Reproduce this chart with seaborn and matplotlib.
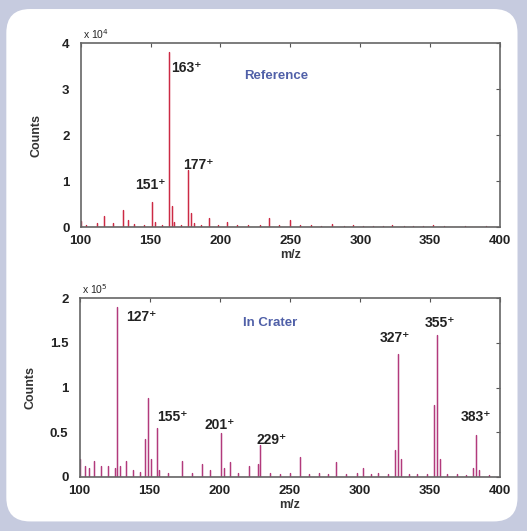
import numpy as np
import pandas as pd
import seaborn as sns
import matplotlib.pyplot as plt
from matplotlib.patches import FancyBboxPatch

# Reference spectrum (counts x 10^4)
ref_mz = [100, 104, 112, 117, 123, 130, 134, 138, 145, 151, 153, 158, 163, 165, 167,
          172, 177, 179, 181, 186, 192, 198, 205, 212, 220, 228, 235, 242, 250, 257,
          265, 272, 280, 288, 295, 302, 309, 316, 323, 331, 338, 345, 352, 360, 375, 390]
ref_counts = [0.12, 0.05, 0.08, 0.25, 0.08, 0.36, 0.15, 0.06, 0.05, 0.55, 0.1, 0.04, 3.8, 0.45, 0.1,
              0.05, 1.25, 0.3, 0.08, 0.05, 0.2, 0.04, 0.1, 0.04, 0.05, 0.04, 0.2, 0.04, 0.15, 0.04,
              0.05, 0.03, 0.06, 0.03, 0.04, 0.03, 0.03, 0.02, 0.04, 0.02, 0.03, 0.02, 0.04, 0.02, 0.02, 0.02]

# In-crater spectrum (counts x 10^5)
crater_mz = [100, 104, 107, 110, 115, 120, 125, 127, 129, 133, 138, 143, 147, 149, 151,
             155, 157, 163, 173, 180, 187, 193, 201, 203, 207, 213, 221, 227, 229, 236,
             243, 250, 257, 264, 271, 277, 283, 290, 298, 302, 308, 313, 320, 325, 327,
             329, 335, 341, 348, 353, 355, 357, 362, 369, 376, 381, 383, 385, 392]
crater_counts = [0.2, 0.12, 0.1, 0.18, 0.12, 0.12, 0.1, 1.9, 0.12, 0.18, 0.08, 0.06, 0.42, 0.88, 0.2,
                 0.55, 0.08, 0.05, 0.18, 0.05, 0.15, 0.08, 0.49, 0.1, 0.17, 0.05, 0.12, 0.15, 0.36, 0.04,
                 0.03, 0.04, 0.22, 0.03, 0.05, 0.03, 0.17, 0.03, 0.05, 0.1, 0.03, 0.05, 0.03, 0.3, 1.38,
                 0.2, 0.03, 0.03, 0.03, 0.8, 1.59, 0.2, 0.03, 0.03, 0.02, 0.1, 0.47, 0.08, 0.02]

ref_labels = [("163", 164.5, 3.45, "left"), ("177", 173.5, 1.35, "left"), ("151", 161, 0.91, "right")]
crater_labels = [("127", 133.5, 1.79, "left"), ("327", 325, 1.55, "center"), ("355", 357, 1.72, "center"),
                 ("155", 155.5, 0.67, "left"), ("201", 200, 0.58, "center"), ("229", 237, 0.41, "center"),
                 ("383", 383, 0.67, "center")]


def sticks(mz, counts):
    xs, ys = [100], [0]
    for m, c in zip(mz, counts):
        xs += [m, m, m]
        ys += [0, c, 0]
    xs.append(400)
    ys.append(0)
    return pd.DataFrame({"mz": xs, "counts": ys})


sns.set_style("white")
plt.rcParams["font.family"] = ["Liberation Sans", "DejaVu Sans"]

fig = plt.figure(figsize=(5.27, 5.31), dpi=100, facecolor="#c6cbdf")
fig.patches.append(FancyBboxPatch((0.012, 0.018), 0.97, 0.965, boxstyle="round,pad=0,rounding_size=0.045",
                                  transform=fig.transFigure, facecolor="white", edgecolor="none", zorder=-5))

ax1 = fig.add_axes([0.153, 0.5725, 0.796, 0.3465])
ax2 = fig.add_axes([0.151, 0.1017, 0.798, 0.337])

panels = [
    (ax1, sticks(ref_mz, ref_counts), "#cc2a44", 4, [0, 1, 2, 3, 4], ["0", "1", "2", "3", "4"],
     "4", ref_labels, "Reference", (240, 3.29), 14),
    (ax2, sticks(crater_mz, crater_counts), "#b23a7c", 2, [0, 0.5, 1, 1.5, 2], ["0", "0.5", "1", "1.5", "2"],
     "5", crater_labels, "In Crater", (236, 1.72), 10),
]

for ax, df, col, ymax, yt, ytl, expo, labels, title, tpos, ylpad in panels:
    ax.set_facecolor("none")
    sns.lineplot(data=df, x="mz", y="counts", sort=False, estimator=None, color=col, lw=0.9, ax=ax)
    ax.set_xlim(100, 400)
    ax.set_ylim(0, ymax)
    ax.set_xticks(range(100, 401, 50))
    ax.set_yticks(yt)
    ax.set_yticklabels(ytl)
    ax.tick_params(direction="in", length=3, top=True, right=True, labelsize=9.5, color="#555555",
                   labelcolor="#222222")
    ax.tick_params(axis="x", pad=6)
    ax.tick_params(axis="y", pad=8)
    for t in ax.get_xticklabels() + ax.get_yticklabels():
        t.set_fontweight("bold")
    for s in ax.spines.values():
        s.set_color("#666666")
        s.set_linewidth(1.2)
    ax.set_xlabel("m/z", fontsize=9, fontweight="bold", labelpad=1, color="#333333")
    ax.set_ylabel("Counts", fontsize=9, fontweight="bold", labelpad=ylpad, color="#333333")
    ax.text(0.005, 1.01, "x 10$^{%s}$" % expo, transform=ax.transAxes, fontsize=7.5, va="bottom", ha="left")
    for lab, x, y, ha in labels:
        ax.text(x, y, lab + "\u207a", fontsize=10, fontweight="bold", ha=ha, va="center", color="#222222")
    ax.text(tpos[0], tpos[1], title, fontsize=9.5, fontweight="bold", ha="center", va="center", color="#5060a8")

fig.savefig("out.png", dpi=100, facecolor=fig.get_facecolor())
